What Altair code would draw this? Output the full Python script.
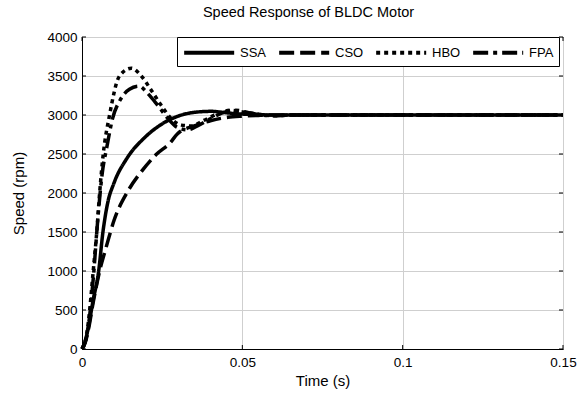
import altair as alt
import pandas as pd

# Time (s) and speed (rpm) samples
ssa_t = [0, 0.001, 0.002, 0.0034, 0.0052, 0.0065, 0.0081, 0.0099, 0.0141, 0.0194, 0.0246, 0.0298, 0.035, 0.0403, 0.0455, 0.05, 0.055, 0.06, 0.08, 0.1, 0.15]
ssa_v = [0, 100, 280, 610, 1000, 1490, 1890, 2120, 2450, 2705, 2876, 2983, 3034, 3047, 3026, 3012, 3004, 3000, 3000, 3000, 3000]

cso_t = [0, 0.001, 0.002, 0.0035, 0.0055, 0.0075, 0.01, 0.0144, 0.019, 0.0233, 0.0274, 0.0298, 0.035, 0.0403, 0.0455, 0.05, 0.055, 0.06, 0.08, 0.1, 0.15]
cso_v = [0, 80, 250, 600, 1000, 1300, 1650, 2030, 2300, 2500, 2640, 2760, 2860, 2930, 2970, 2985, 2995, 3000, 3000, 3000, 3000]

hbo_t = [0, 0.001, 0.002, 0.0035, 0.0046, 0.0055, 0.0066, 0.0086, 0.0117, 0.0154, 0.0185, 0.0214, 0.0246, 0.0277, 0.031, 0.034, 0.038, 0.042, 0.046, 0.05, 0.055, 0.06, 0.065, 0.08, 0.1, 0.15]
hbo_v = [0, 100, 350, 1000, 1500, 2000, 2490, 3000, 3500, 3600, 3500, 3330, 3130, 2960, 2870, 2860, 2930, 3010, 3060, 3040, 3010, 2990, 3000, 3000, 3000, 3000]

fpa_t = [0, 0.001, 0.002, 0.0035, 0.005, 0.0063, 0.0078, 0.0095, 0.012, 0.0148, 0.0178, 0.0204, 0.0235, 0.0267, 0.0298, 0.033, 0.036, 0.04, 0.044, 0.048, 0.052, 0.056, 0.06, 0.065, 0.08, 0.1, 0.15]
fpa_v = [0, 90, 300, 900, 1700, 2250, 2600, 2950, 3200, 3330, 3370, 3280, 3130, 2960, 2840, 2810, 2860, 2950, 3030, 3060, 3030, 3000, 2990, 3000, 3000, 3000, 3000]

series = ["SSA", "CSO", "HBO", "FPA"]
dashes = [[1, 0], [15, 6], [4, 4], [15, 5, 4, 5]]
x_ticks = [0, 0.05, 0.1, 0.15]
y_ticks = [0, 500, 1000, 1500, 2000, 2500, 3000, 3500, 4000]

rows = []
for name, ts, vs in [("SSA", ssa_t, ssa_v), ("CSO", cso_t, cso_v), ("HBO", hbo_t, hbo_v), ("FPA", fpa_t, fpa_v)]:
    for i, (t, v) in enumerate(zip(ts, vs)):
        rows.append({"Method": name, "t": t, "v": v, "i": i})
df = pd.DataFrame(rows)
xt = pd.DataFrame({"t": x_ticks})
yt = pd.DataFrame({"v": y_ticks})

font = "Liberation Sans"
W, H, TK = 481, 312, 4

xs = alt.Scale(domain=[0, 0.15], nice=False)
ys = alt.Scale(domain=[0, 4000], nice=False)

x_axis = alt.Axis(title="Time (s)", values=x_ticks, labelExpr="'' + datum.value",
                  grid=True, gridColor="#cfcfcf", ticks=False, labelPadding=6,
                  titlePadding=5, domainColor="black", labelFlush=False)
y_axis = alt.Axis(title="Speed (rpm)", values=y_ticks, format="d",
                  grid=True, gridColor="#cfcfcf", ticks=False, labelPadding=5,
                  titlePadding=20, domainColor="black")

lines = alt.Chart(df).mark_line(strokeWidth=3.5, color="black", interpolate="monotone").encode(
    x=alt.X("t:Q", scale=xs, axis=x_axis),
    y=alt.Y("v:Q", scale=ys, axis=y_axis),
    strokeDash=alt.StrokeDash("Method:N", scale=alt.Scale(domain=series, range=dashes),
                              sort=series,
                              legend=alt.Legend(title=None, orient="none", legendX=95, legendY=0,
                                                direction="horizontal", columns=4,
                                                symbolType="M-1,0H5", symbolStrokeColor="black",
                                                symbolStrokeWidth=4, symbolSize=278,
                                                labelFontSize=13, labelFont=font, labelColor="black",
                                                columnPadding=4, labelOffset=37, padding=5,
                                                strokeColor="black", fillColor="white")),
    order="i:Q",
)

tick_x_bot = alt.Chart(xt).mark_rule(color="black", strokeWidth=1).encode(
    x=alt.X("t:Q", scale=xs, axis=x_axis), y=alt.value(H), y2=alt.value(H - TK))
tick_x_top = alt.Chart(xt).mark_rule(color="black", strokeWidth=1).encode(
    x=alt.X("t:Q", scale=xs, axis=x_axis), y=alt.value(0), y2=alt.value(TK))
tick_y_left = alt.Chart(yt).mark_rule(color="black", strokeWidth=1).encode(
    y=alt.Y("v:Q", scale=ys, axis=y_axis), x=alt.value(0), x2=alt.value(TK))
tick_y_right = alt.Chart(yt).mark_rule(color="black", strokeWidth=1).encode(
    y=alt.Y("v:Q", scale=ys, axis=y_axis), x=alt.value(W), x2=alt.value(W - TK))

chart = alt.layer(lines, tick_x_bot, tick_x_top, tick_y_left, tick_y_right).properties(
    width=W, height=H,
    title=alt.TitleParams("Speed Response of BLDC Motor", fontSize=14.5, font=font,
                          fontWeight="normal", color="black", offset=10, dx=-14),
    autosize=alt.AutoSizeParams(type="none"),
    padding={"left": 82, "top": 37, "right": 18, "bottom": 49},
).configure_view(stroke="black", strokeWidth=1).configure_axis(
    labelFont=font, titleFont=font, labelFontSize=13.5, titleFontSize=15,
    labelColor="black", titleColor="black", titleFontWeight="normal"
)

chart.save("out.html", embed_options={"renderer": "svg", "actions": False})
